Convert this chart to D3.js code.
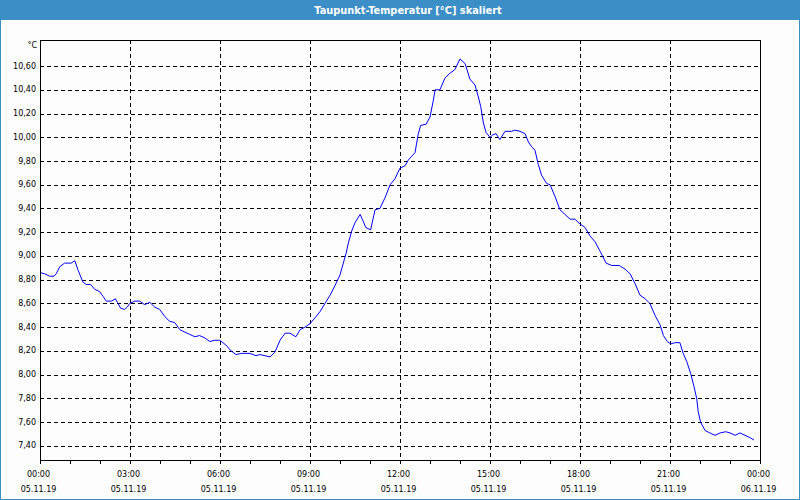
<!DOCTYPE html>
<html>
<head>
<meta charset="utf-8">
<script src="https://cdn.jsdelivr.net/npm/d3@7"></script>
<style>
  html, body { margin: 0; padding: 0; background: #fcfdfc; }
  svg { display: block; }
</style>
</head>
<body>
<svg id="chart" width="800" height="500"></svg>
<script>
// ---- data ----
const chartTitle = "Taupunkt-Temperatur [°C] skaliert";
const unitLabel = "°C";

// time in hours since 05.11.19 00:00
const times = [
  0.00, 0.16, 0.32, 0.47, 0.54, 0.66, 0.82, 1.04, 1.16, 1.27, 1.43, 1.54, 1.69, 1.82, 1.99,
  2.10, 2.21, 2.38, 2.51, 2.58, 2.69, 2.82, 2.91, 2.99, 3.16, 3.32, 3.49, 3.66, 3.82, 3.99,
  4.16, 4.32, 4.49, 4.66, 4.82, 4.99, 5.16, 5.32, 5.49, 5.66, 5.82, 5.99, 6.10, 6.24, 6.33,
  6.53, 6.72, 7.00, 7.20, 7.33, 7.50, 7.67, 7.83, 8.00, 8.17, 8.33, 8.53, 8.67, 8.83, 9.00,
  9.17, 9.33, 9.50, 9.67, 9.83, 10.00, 10.11, 10.20, 10.28, 10.39, 10.50, 10.67, 10.76, 10.86,
  11.02, 11.17, 11.33, 11.50, 11.67, 11.83, 12.00, 12.17, 12.28, 12.39, 12.50, 12.61, 12.69,
  12.87, 13.00, 13.11, 13.17, 13.33, 13.50, 13.67, 13.83, 14.00, 14.17, 14.33, 14.50, 14.61,
  14.69, 14.78, 14.87, 15.00, 15.09, 15.20, 15.33, 15.50, 15.72, 15.83, 16.00, 16.17, 16.28,
  16.39, 16.50, 16.61, 16.72, 16.89, 17.00, 17.17, 17.33, 17.50, 17.67, 17.83, 18.00, 18.17,
  18.33, 18.50, 18.67, 18.87, 19.06, 19.31, 19.50, 19.67, 19.83, 20.00, 20.17, 20.33, 20.50,
  20.67, 20.78, 20.91, 21.02, 21.17, 21.33, 21.44, 21.56, 21.69, 21.80, 21.89, 21.94, 22.02,
  22.17, 22.33, 22.50, 22.67, 22.86, 23.00, 23.17, 23.33, 23.50, 23.67, 23.80
];
const values = [
  8.86, 8.85, 8.83, 8.83, 8.85, 8.91, 8.94, 8.94, 8.96, 8.88, 8.78, 8.76, 8.76, 8.72, 8.70,
  8.66, 8.62, 8.62, 8.64, 8.61, 8.56, 8.55, 8.57, 8.60, 8.62, 8.62, 8.59, 8.61, 8.57, 8.55,
  8.49, 8.45, 8.44, 8.38, 8.36, 8.34, 8.32, 8.33, 8.31, 8.28, 8.29, 8.29, 8.27, 8.24, 8.21,
  8.17, 8.18, 8.18, 8.16, 8.17, 8.16, 8.15, 8.19, 8.29, 8.35, 8.35, 8.32, 8.38, 8.40, 8.43,
  8.48, 8.53, 8.60, 8.67, 8.75, 8.84, 8.94, 9.02, 9.11, 9.21, 9.28, 9.35, 9.30, 9.24,
  9.22, 9.39, 9.40, 9.49, 9.60, 9.65, 9.74, 9.76, 9.81, 9.84, 9.87, 10.03, 10.10,
  10.11, 10.17, 10.31, 10.40, 10.40, 10.50, 10.54, 10.57, 10.66, 10.62, 10.49, 10.44, 10.34,
  10.26, 10.12, 10.04, 10.00, 10.02, 10.03, 9.98, 10.05, 10.05, 10.06, 10.05, 10.03, 9.96,
  9.92, 9.89, 9.77, 9.68, 9.61, 9.60, 9.50, 9.39, 9.35, 9.31, 9.31, 9.27, 9.24,
  9.17, 9.12, 9.04, 8.94, 8.92, 8.92, 8.89, 8.85, 8.77, 8.67, 8.64, 8.60, 8.50,
  8.42, 8.33, 8.28, 8.26, 8.27, 8.27, 8.18, 8.11, 8.01, 7.90, 7.80, 7.69, 7.60,
  7.53, 7.51, 7.49, 7.51, 7.52, 7.51, 7.49, 7.51, 7.49, 7.47, 7.45
];

const yDomain = [7.282, 10.819];
const yTickValues = [7.4, 7.6, 7.8, 8.0, 8.2, 8.4, 8.6, 8.8, 9.0, 9.2, 9.4, 9.6, 9.8, 10.0, 10.2, 10.4, 10.6];
const xDomain = [0, 24];
const xMajorHours = [0, 3, 6, 9, 12, 15, 18, 21, 24];
const xTimeLabels = ["00:00", "03:00", "06:00", "09:00", "12:00", "15:00", "18:00", "21:00", "00:00"];
const xDateLabels = ["05.11.19", "05.11.19", "05.11.19", "05.11.19", "05.11.19", "05.11.19", "05.11.19", "05.11.19", "06.11.19"];
const xMinorHours = d3.range(0, 25, 1);

// ---- layout ----
const W = 800, H = 500;
const plot = { left: 40, top: 40, right: 760, bottom: 460 };
const font = "'DejaVu Sans', Verdana, sans-serif";

const svg = d3.select("#chart");

// frame + title bar
svg.append("rect").attr("x", 0).attr("y", 0).attr("width", W).attr("height", H).attr("fill", "#fcfdfc");
svg.append("rect").attr("x", 0.5).attr("y", 0.5).attr("width", W - 1).attr("height", H - 1)
  .attr("fill", "none").attr("stroke", "#3c8ec6").attr("stroke-width", 1);
svg.append("rect").attr("x", 0).attr("y", 0).attr("width", W).attr("height", 20).attr("fill", "#3c8ec6");
svg.append("text").attr("x", W / 2 + 8).attr("y", 10).attr("text-anchor", "middle")
  .attr("dominant-baseline", "central").attr("fill", "#ffffff")
  .style("font-family", font).style("font-size", "9.8px").style("font-weight", "bold")
  .text(chartTitle);

const x = d3.scaleLinear().domain(xDomain).range([plot.left, plot.right]);
const y = d3.scaleLinear().domain(yDomain).range([plot.bottom, plot.top]);

const fmt = v => d3.format(".2f")(v).replace(".", ",");

// horizontal grid
svg.append("g").selectAll("line").data(yTickValues).join("line")
  .attr("x1", plot.left).attr("x2", plot.right)
  .attr("y1", d => Math.round(y(d)) + 0.5).attr("y2", d => Math.round(y(d)) + 0.5)
  .attr("stroke", "#000").attr("stroke-width", 1).attr("stroke-dasharray", "4,3")
  .attr("shape-rendering", "crispEdges");

// vertical grid
svg.append("g").selectAll("line").data(xMajorHours.slice(1, -1)).join("line")
  .attr("x1", d => Math.round(x(d)) + 0.5).attr("x2", d => Math.round(x(d)) + 0.5)
  .attr("y1", plot.top).attr("y2", plot.bottom)
  .attr("stroke", "#000").attr("stroke-width", 1).attr("stroke-dasharray", "4,3")
  .attr("shape-rendering", "crispEdges");

// y labels
svg.append("g").selectAll("text").data(yTickValues).join("text")
  .attr("x", 36).attr("y", d => y(d))
  .attr("text-anchor", "end").attr("dominant-baseline", "central")
  .style("font-family", font).style("font-size", "8px").attr("fill", "#000")
  .text(d => fmt(d));
svg.append("text").attr("x", 37).attr("y", 45)
  .attr("text-anchor", "end").attr("dominant-baseline", "central")
  .style("font-family", font).style("font-size", "8px").attr("fill", "#000")
  .text(unitLabel);

// x axis ticks
const xAxis = d3.axisBottom(x).tickValues(xMinorHours).tickSize(4).tickFormat("");
const gx = svg.append("g").attr("transform", `translate(0,${plot.bottom})`).call(xAxis);
gx.select(".domain").remove();
gx.selectAll("line").attr("stroke", "#000").attr("shape-rendering", "crispEdges");

const labels = svg.append("g").selectAll("g").data(xMajorHours).join("g")
  .attr("transform", d => `translate(${x(d) - 1.5},0)`);
labels.append("text").attr("y", 474).attr("text-anchor", "middle").attr("dominant-baseline", "central")
  .style("font-family", font).style("font-size", "8px").attr("fill", "#000")
  .text((d, i) => xTimeLabels[i]);
labels.append("text").attr("y", 489).attr("text-anchor", "middle").attr("dominant-baseline", "central")
  .style("font-family", font).style("font-size", "8px").attr("fill", "#000")
  .text((d, i) => xDateLabels[i]);

// data line
const pts = times.map((t, i) => [t, values[i]]);
svg.append("path").datum(pts)
  .attr("fill", "none").attr("stroke", "#0000ff").attr("stroke-width", 1)
  .attr("d", d3.line().x(d => x(d[0])).y(d => y(d[1])));

// plot frame
svg.append("rect").attr("x", plot.left + 0.5).attr("y", plot.top + 0.5)
  .attr("width", plot.right - plot.left).attr("height", plot.bottom - plot.top)
  .attr("fill", "none").attr("stroke", "#000").attr("stroke-width", 1)
  .attr("shape-rendering", "crispEdges");
</script>
</body>
</html>
